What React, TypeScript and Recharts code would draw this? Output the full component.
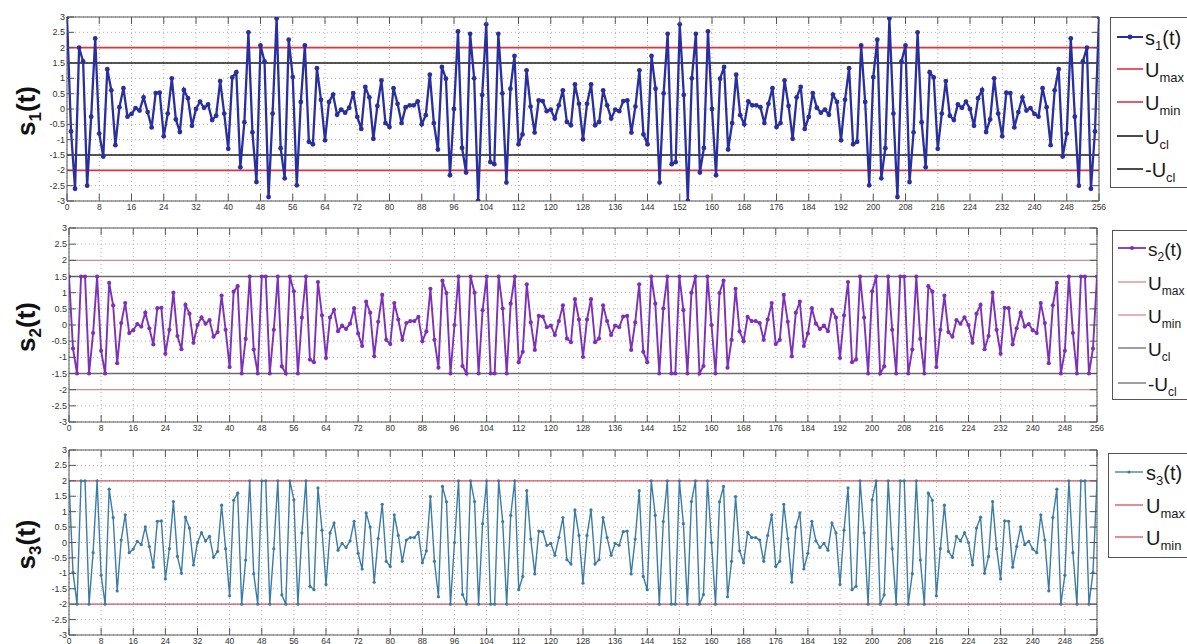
import React from 'react';
import { LineChart, Line, XAxis, YAxis, CartesianGrid, ReferenceLine, ReferenceArea } from 'recharts';

const FONT = '"Liberation Sans", Arial, Helvetica, sans-serif';
const PAGE_W = 1187;

const sampleIndex: number[] = Array.from({ length: 257 }, (_, i) => i);
const xTicks = [0, 8, 16, 24, 32, 40, 48, 56, 64, 72, 80, 88, 96, 104, 112, 120, 128, 136, 144, 152, 160, 168, 176, 184, 192, 200, 208, 216, 224, 232, 240, 248, 256];
const yTicks = [-3, -2.5, -2, -1.5, -1, -0.5, 0, 0.5, 1, 1.5, 2, 2.5, 3];

const s1Values = [
  3.0, -0.73, -2.6, 2.0, 1.55, -2.5, -0.25, 2.3, -0.8, -1.55,
  1.3, 0.61, -1.18, 0.06, 0.68, -0.25, -0.16, 0.03, -0.05, 0.38,
  -0.1, -0.6, 0.52, 0.53, -0.89, -0.15, 1.0, -0.34, -0.75, 0.62,
  0.35, -0.55, 0.0, 0.24, 0.04, 0.15, -0.36, -0.22, 0.91, -0.15,
  -1.3, 1.03, 1.2, -1.9, -0.43, 2.5, -0.76, -2.38, 2.07, 1.55,
  -2.87, -0.15, 2.95, -1.28, -2.26, 2.26, 1.04, -2.49, 0.23, 2.07,
  -1.07, -1.15, 1.33, 0.3, -1.02, 0.23, 0.47, -0.19, -0.02, -0.12,
  0.04, 0.52, -0.26, -0.65, 0.72, 0.38, -0.97, 0.1, 0.93, -0.46,
  -0.59, 0.68, 0.17, -0.46, 0.06, 0.12, 0.12, 0.25, -0.5, -0.2,
  1.12, -0.46, -1.32, 1.37, 0.99, -2.16, 0.0, 2.53, -1.27, -2.07,
  2.45, 1.0, -3.0, 0.46, 2.76, -1.73, -1.8, 2.45, 0.51, -2.4,
  0.66, 1.73, -1.15, -0.83, 1.26, 0.08, -0.77, 0.28, 0.26, -0.07,
  -0.02, -0.31, 0.12, 0.61, -0.42, -0.53, 0.8, 0.17, -0.99,
  0.17, 0.8, -0.53, -0.42, 0.61, 0.12, -0.31, -0.02,
  -0.07, 0.26, 0.28, -0.77, 0.08, 1.26, -0.83, -1.15, 1.73, 0.66,
  -2.4, 0.51, 2.45, -1.8, -1.73, 2.76, 0.46, -3.0, 1.0, 2.45,
  -2.07, -1.27, 2.53, 0.0, -2.16, 0.99, 1.37, -1.32, -0.46, 1.12,
  -0.2, -0.5, 0.25, 0.12, 0.12, 0.06, -0.46, 0.17, 0.68, -0.59,
  -0.46, 0.93, 0.1, -0.97, 0.38, 0.72, -0.65, -0.26, 0.52, 0.04,
  -0.12, -0.02, -0.19, 0.47, 0.23, -1.02, 0.3, 1.33, -1.15, -1.07,
  2.07, 0.23, -2.49, 1.04, 2.26, -2.26, -1.28, 2.95, -0.15, -2.87,
  1.55, 2.07, -2.38, -0.76, 2.5, -0.43, -1.9, 1.2, 1.03, -1.3,
  -0.15, 0.91, -0.22, -0.36, 0.15, 0.04, 0.24, 0.0, -0.55, 0.35,
  0.62, -0.75, -0.34, 1.0, -0.15, -0.89, 0.53, 0.52, -0.6, -0.1,
  0.38, -0.05, 0.03, -0.16, -0.25, 0.68, 0.06, -1.18, 0.61, 1.3,
  -1.55, -0.8, 2.3, -0.25, -2.5, 1.55, 2.0, -2.6, -0.73, 3.0,
];

const s2Values = [
  1.5, -0.73, -1.5, 1.5, 1.5, -1.5, -0.25, 1.5, -0.8, -1.5,
  1.3, 0.61, -1.18, 0.06, 0.68, -0.25, -0.16, 0.03, -0.05, 0.38,
  -0.1, -0.6, 0.52, 0.53, -0.89, -0.15, 1.0, -0.34, -0.75, 0.62,
  0.35, -0.55, 0.0, 0.24, 0.04, 0.15, -0.36, -0.22, 0.91, -0.15,
  -1.3, 1.03, 1.2, -1.5, -0.43, 1.5, -0.76, -1.5, 1.5, 1.5,
  -1.5, -0.15, 1.5, -1.28, -1.5, 1.5, 1.04, -1.5, 0.23, 1.5,
  -1.07, -1.15, 1.33, 0.3, -1.02, 0.23, 0.47, -0.19, -0.02, -0.12,
  0.04, 0.52, -0.26, -0.65, 0.72, 0.38, -0.97, 0.1, 0.93, -0.46,
  -0.59, 0.68, 0.17, -0.46, 0.06, 0.12, 0.12, 0.25, -0.5, -0.2,
  1.12, -0.46, -1.32, 1.37, 0.99, -1.5, 0.0, 1.5, -1.27, -1.5,
  1.5, 1.0, -1.5, 0.46, 1.5, -1.5, -1.5, 1.5, 0.51, -1.5,
  0.66, 1.5, -1.15, -0.83, 1.26, 0.08, -0.77, 0.28, 0.26, -0.07,
  -0.02, -0.31, 0.12, 0.61, -0.42, -0.53, 0.8, 0.17, -0.99,
  0.17, 0.8, -0.53, -0.42, 0.61, 0.12, -0.31, -0.02,
  -0.07, 0.26, 0.28, -0.77, 0.08, 1.26, -0.83, -1.15, 1.5, 0.66,
  -1.5, 0.51, 1.5, -1.5, -1.5, 1.5, 0.46, -1.5, 1.0, 1.5,
  -1.5, -1.27, 1.5, 0.0, -1.5, 0.99, 1.37, -1.32, -0.46, 1.12,
  -0.2, -0.5, 0.25, 0.12, 0.12, 0.06, -0.46, 0.17, 0.68, -0.59,
  -0.46, 0.93, 0.1, -0.97, 0.38, 0.72, -0.65, -0.26, 0.52, 0.04,
  -0.12, -0.02, -0.19, 0.47, 0.23, -1.02, 0.3, 1.33, -1.15, -1.07,
  1.5, 0.23, -1.5, 1.04, 1.5, -1.5, -1.28, 1.5, -0.15, -1.5,
  1.5, 1.5, -1.5, -0.76, 1.5, -0.43, -1.5, 1.2, 1.03, -1.3,
  -0.15, 0.91, -0.22, -0.36, 0.15, 0.04, 0.24, 0.0, -0.55, 0.35,
  0.62, -0.75, -0.34, 1.0, -0.15, -0.89, 0.53, 0.52, -0.6, -0.1,
  0.38, -0.05, 0.03, -0.16, -0.25, 0.68, 0.06, -1.18, 0.61, 1.3,
  -1.5, -0.8, 1.5, -0.25, -1.5, 1.5, 1.5, -1.5, -0.73, 1.5,
];

const s3Values = [
  2, -0.97, -2, 2, 2, -2, -0.33, 2, -1.06, -2,
  1.73, 0.81, -1.57, 0.08, 0.9, -0.33, -0.21, 0.04, -0.07, 0.51,
  -0.13, -0.8, 0.69, 0.7, -1.18, -0.2, 1.33, -0.45, -1.0, 0.82,
  0.47, -0.73, 0.0, 0.32, 0.05, 0.2, -0.48, -0.29, 1.21, -0.2,
  -1.73, 1.37, 1.6, -2, -0.57, 2, -1.01, -2, 2, 2,
  -2, -0.2, 2, -1.7, -2, 2, 1.38, -2, 0.31, 2,
  -1.42, -1.53, 1.77, 0.4, -1.36, 0.31, 0.63, -0.25, -0.03, -0.16,
  0.05, 0.69, -0.35, -0.86, 0.96, 0.5, -1.29, 0.13, 1.24, -0.61,
  -0.78, 0.9, 0.23, -0.61, 0.08, 0.16, 0.16, 0.33, -0.66, -0.27,
  1.49, -0.61, -1.76, 1.82, 1.32, -2, 0.0, 2, -1.69, -2,
  2, 1.33, -2, 0.61, 2, -2, -2, 2, 0.68, -2,
  0.88, 2, -1.53, -1.1, 1.68, 0.11, -1.02, 0.37, 0.35, -0.09,
  -0.03, -0.41, 0.16, 0.81, -0.56, -0.7, 1.06, 0.23, -1.32,
  0.23, 1.06, -0.7, -0.56, 0.81, 0.16, -0.41, -0.03,
  -0.09, 0.35, 0.37, -1.02, 0.11, 1.68, -1.1, -1.53, 2, 0.88,
  -2, 0.68, 2, -2, -2, 2, 0.61, -2, 1.33, 2,
  -2, -1.69, 2, 0.0, -2, 1.32, 1.82, -1.76, -0.61, 1.49,
  -0.27, -0.66, 0.33, 0.16, 0.16, 0.08, -0.61, 0.23, 0.9, -0.78,
  -0.61, 1.24, 0.13, -1.29, 0.5, 0.96, -0.86, -0.35, 0.69, 0.05,
  -0.16, -0.03, -0.25, 0.63, 0.31, -1.36, 0.4, 1.77, -1.53, -1.42,
  2, 0.31, -2, 1.38, 2, -2, -1.7, 2, -0.2, -2,
  2, 2, -2, -1.01, 2, -0.57, -2, 1.6, 1.37, -1.73,
  -0.2, 1.21, -0.29, -0.48, 0.2, 0.05, 0.32, 0.0, -0.73, 0.47,
  0.82, -1.0, -0.45, 1.33, -0.2, -1.18, 0.7, 0.69, -0.8, -0.13,
  0.51, -0.07, 0.04, -0.21, -0.33, 0.9, 0.08, -1.57, 0.81, 1.73,
  -2, -1.06, 2, -0.33, -2, 2, 2, -2, -0.97, 2,
];

const uMax = 2;
const uMin = -2;
const uCl = 1.5;
const negUCl = -1.5;

const data = sampleIndex.map((t, i) => ({ t, s1: s1Values[i], s2: s2Values[i], s3: s3Values[i] }));

type Geo = { top: number; plotTop: number; plotBottom: number; plotLeft: number; plotRight: number };
type RefDef = { y: number; color: string; width: number };
type LegendEntry = { main: string; sub: string; suffix?: string; color: string; width: number; marker?: boolean };

const AXIS_W = 40;
const XAXIS_H = 14;

function Panel(props: {
  geo: Geo; seriesKey: string; sub: string; color: string; lineWidth: number; dotR: number; refs: RefDef[];
}) {
  const { geo, seriesKey, sub, color, lineWidth, dotR, refs } = props;
  const height = geo.plotBottom + XAXIS_H;
  const cy = (geo.plotTop + geo.plotBottom) / 2 + 2;

  const renderXTick = (p: any) => {
    const x = p.x;
    return (
      <g>
        <line x1={x} x2={x} y1={geo.plotBottom} y2={geo.plotBottom - 7} stroke="#555" strokeWidth={1} />
        <line x1={x} x2={x} y1={geo.plotTop} y2={geo.plotTop + 7} stroke="#555" strokeWidth={1} />
        <text x={x} y={geo.plotBottom + 8.5} textAnchor="middle" fontSize={8.5} fill="#333" fontFamily={FONT}>
          {p.payload.value}
        </text>
      </g>
    );
  };
  const renderYTick = (p: any) => {
    const y = p.y;
    return (
      <g>
        <line x1={geo.plotLeft} x2={geo.plotLeft + 7} y1={y} y2={y} stroke="#555" strokeWidth={1} />
        <line x1={geo.plotRight - 7} x2={geo.plotRight} y1={y} y2={y} stroke="#555" strokeWidth={1} />
        <text x={geo.plotLeft - 2} y={y + 3} textAnchor="end" fontSize={9} fill="#333" fontFamily={FONT}>
          {String(p.payload.value)}
        </text>
      </g>
    );
  };
  const renderYLabel = () => (
    <text
      transform={`translate(35, ${cy}) rotate(-90)`}
      textAnchor="middle"
      fontSize={26}
      fontWeight="bold"
      fontFamily={FONT}
      fill="#111"
    >
      s<tspan fontSize={17} dy={6}>{sub}</tspan><tspan dy={-6}>(t)</tspan>
    </text>
  );

  return (
    <div style={{ position: 'absolute', left: 0, top: geo.top }}>
      <LineChart
        width={PAGE_W}
        height={height}
        data={data}
        margin={{ top: geo.plotTop, right: PAGE_W - geo.plotRight, bottom: 0, left: geo.plotLeft - AXIS_W }}
      >
        <CartesianGrid stroke="#b0b0b0" strokeDasharray="1 3" strokeWidth={1} />
        <XAxis
          dataKey="t"
          type="number"
          domain={[0, 256]}
          ticks={xTicks}
          interval={0}
          height={XAXIS_H}
          axisLine={false}
          tickLine={false}
          tick={renderXTick}
          allowDataOverflow
        />
        <YAxis
          type="number"
          domain={[-3, 3]}
          ticks={yTicks}
          interval={0}
          width={AXIS_W}
          axisLine={false}
          tickLine={false}
          tick={renderYTick}
          allowDataOverflow
          label={{ content: renderYLabel }}
        />
        <ReferenceArea x1={0} x2={256} y1={-3} y2={3} fill="none" stroke="#555" strokeWidth={1} ifOverflow="visible" />
        {refs.map((r, i) => (
          <ReferenceLine key={i} y={r.y} stroke={r.color} strokeWidth={r.width} ifOverflow="visible" />
        ))}
        <Line
          type="linear"
          dataKey={seriesKey}
          stroke={color}
          strokeWidth={lineWidth}
          dot={{ r: dotR, fill: color, stroke: color, strokeWidth: 0 }}
          activeDot={false}
          isAnimationActive={false}
        />
      </LineChart>
    </div>
  );
}

function LegendBox(props: {
  left: number; top: number; height: number; rows: number[]; x1: number; x2: number; tx: number; entries: LegendEntry[]; dotR: number;
  mainSize: number; subSize: number;
}) {
  const { left, top, height, rows, x1, x2, tx, entries, dotR, mainSize, subSize } = props;
  const width = 110;
  return (
    <div
      style={{
        position: 'absolute', left, top, width, height, border: '1px solid #555', background: '#fff', boxSizing: 'border-box',
      }}
    >
      <svg width={width} height={height} style={{ display: 'block', position: 'absolute', left: -1, top: -1 }}>
        {entries.map((e, i) => (
          <g key={i}>
            <line x1={x1} x2={x2} y1={rows[i]} y2={rows[i]} stroke={e.color} strokeWidth={e.width} />
            {e.marker ? <circle cx={(x1 + x2) / 2} cy={rows[i]} r={dotR} fill={e.color} /> : null}
            <text x={tx} y={rows[i] + 7.5} fontSize={mainSize} fontFamily={FONT} fill="#1a1a1a">
              {e.main}
              <tspan fontSize={subSize} dy={5}>{e.sub}</tspan>
              {e.suffix ? <tspan dy={-5}>{e.suffix}</tspan> : null}
            </text>
          </g>
        ))}
      </svg>
    </div>
  );
}

const c1 = '#2a2f9e';
const c2 = '#7d30b8';
const c3 = '#3b7ba6';
const red1 = '#e3313f';
const black1 = '#1e1e1e';
const red2 = '#d98a8c';
const gray2 = '#6b6b6b';
const red3 = '#d4505e';

const geo1: Geo = { top: 0, plotTop: 17, plotBottom: 201, plotLeft: 67, plotRight: 1099 };
const geo2: Geo = { top: 215, plotTop: 13, plotBottom: 207, plotLeft: 69, plotRight: 1097 };
const geo3: Geo = { top: 435, plotTop: 15, plotBottom: 200, plotLeft: 69, plotRight: 1097 };

const refs1: RefDef[] = [
  { y: uMax, color: red1, width: 1.6 },
  { y: uMin, color: red1, width: 1.6 },
  { y: uCl, color: black1, width: 1.6 },
  { y: negUCl, color: black1, width: 1.6 },
];
const refs2: RefDef[] = [
  { y: uMax, color: red2, width: 1.3 },
  { y: uMin, color: red2, width: 1.3 },
  { y: uCl, color: gray2, width: 1.3 },
  { y: negUCl, color: gray2, width: 1.3 },
];
const refs3: RefDef[] = [
  { y: uMax, color: red3, width: 1.3 },
  { y: uMin, color: red3, width: 1.3 },
];

const legend1: LegendEntry[] = [
  { main: 's', sub: '1', suffix: '(t)', color: c1, width: 2, marker: true },
  { main: 'U', sub: 'max', color: red1, width: 1.6 },
  { main: 'U', sub: 'min', color: red1, width: 1.6 },
  { main: 'U', sub: 'cl', color: black1, width: 1.6 },
  { main: '-U', sub: 'cl', color: black1, width: 1.6 },
];
const legend2: LegendEntry[] = [
  { main: 's', sub: '2', suffix: '(t)', color: c2, width: 1.8, marker: true },
  { main: 'U', sub: 'max', color: red2, width: 1.3 },
  { main: 'U', sub: 'min', color: red2, width: 1.3 },
  { main: 'U', sub: 'cl', color: gray2, width: 1.3 },
  { main: '-U', sub: 'cl', color: gray2, width: 1.3 },
];
const legend3: LegendEntry[] = [
  { main: 's', sub: '3', suffix: '(t)', color: c3, width: 1.3, marker: true },
  { main: 'U', sub: 'max', color: red3, width: 1.3 },
  { main: 'U', sub: 'min', color: red3, width: 1.3 },
];

export default function App() {
  return (
    <div
      style={{
        position: 'absolute', left: 0, top: 0, width: PAGE_W, height: 644, overflow: 'hidden', background: '#fff', fontFamily: FONT,
      }}
    >
      <Panel geo={geo1} seriesKey="s1" sub="1" color={c1} lineWidth={2.3} dotR={2.4} refs={refs1} />
      <Panel geo={geo2} seriesKey="s2" sub="2" color={c2} lineWidth={1.9} dotR={2.1} refs={refs2} />
      <Panel geo={geo3} seriesKey="s3" sub="3" color={c3} lineWidth={1.4} dotR={1.6} refs={refs3} />
      <LegendBox left={1110} top={17} height={171} rows={[20, 52, 85, 119, 152]} x1={7} x2={33} tx={35} entries={legend1} dotR={2.4} mainSize={20} subSize={13} />
      <LegendBox left={1112} top={230} height={170} rows={[18, 52, 85, 118, 153]} x1={6} x2={34} tx={36} entries={legend2} dotR={2.1} mainSize={19} subSize={12} />
      <LegendBox left={1108} top={453} height={105} rows={[19, 52, 84]} x1={7} x2={35} tx={38} entries={legend3} dotR={1.6} mainSize={20} subSize={13} />
    </div>
  );
}
